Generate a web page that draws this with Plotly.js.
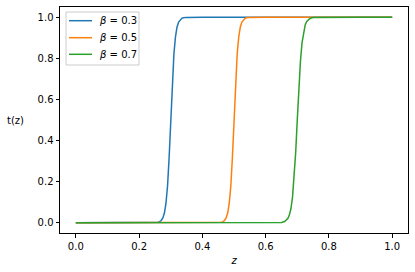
<!DOCTYPE html>
<html>
<head>
<meta charset="utf-8">
<script src="https://cdn.plot.ly/plotly-3.0.1.min.js"></script>
<style>html,body{margin:0;padding:0;background:#fff;}#chart{width:415px;height:272px;}</style>
</head>
<body>
<div id="chart"></div>
<script>
// Series
const betas = ["0.3", "0.5", "0.7"];
const z03 = [0, 0.1, 0.2, 0.25, 0.26, 0.265, 0.27, 0.275, 0.28, 0.285, 0.29, 0.295, 0.3, 0.305, 0.31, 0.315, 0.32, 0.325, 0.33, 0.335, 0.34, 0.35, 0.4, 0.6, 0.8, 1.0];
const t03 = [0, 0, 0, 0.0005, 0.0025, 0.005, 0.011, 0.023, 0.047, 0.095, 0.18, 0.32, 0.5, 0.68, 0.82, 0.905, 0.953, 0.977, 0.989, 0.995, 0.9975, 0.9995, 1, 1, 1, 1];
const z05 = [0, 0.2, 0.4, 0.45, 0.46, 0.465, 0.47, 0.475, 0.48, 0.485, 0.49, 0.495, 0.5, 0.505, 0.51, 0.515, 0.52, 0.525, 0.53, 0.535, 0.54, 0.55, 0.6, 0.8, 1.0];
const t05 = [0, 0, 0, 0.0005, 0.0025, 0.005, 0.011, 0.023, 0.047, 0.095, 0.18, 0.32, 0.5, 0.68, 0.82, 0.905, 0.953, 0.977, 0.989, 0.995, 0.9975, 0.9995, 1, 1, 1];
const z07 = [0, 0.2, 0.4, 0.6, 0.65, 0.66, 0.665, 0.67, 0.675, 0.68, 0.685, 0.69, 0.695, 0.7, 0.705, 0.71, 0.715, 0.72, 0.725, 0.73, 0.735, 0.74, 0.75, 0.8, 0.9, 1.0];
const t07 = [0, 0, 0, 0, 0.0015, 0.0055, 0.0105, 0.0198, 0.037, 0.069, 0.125, 0.214, 0.343, 0.5, 0.657, 0.786, 0.875, 0.931, 0.963, 0.980, 0.9895, 0.9945, 0.9985, 1, 1, 1];
const colors = ["#1f77b4", "#ff7f0e", "#2ca02c"];
const xTicks = [0, 0.2, 0.4, 0.6, 0.8, 1.0];
const yTicks = [0, 0.2, 0.4, 0.6, 0.8, 1.0];

const zs = [z03, z05, z07];
const ts = [t03, t05, t07];
const labels = betas.map(b => "<i>β</i> = " + b);
const traces = zs.map((z, i) => ({
  x: z, y: ts[i], type: "scatter", mode: "lines",
  name: labels[i], showlegend: false,
  line: {color: colors[i], width: 1.5}
}));

const font = {family: "DejaVu Sans, sans-serif", size: 10, color: "#000"};
const axisCommon = {
  showgrid: false, zeroline: false, showline: true, mirror: true,
  linecolor: "#000", linewidth: 1, ticks: "outside", ticklen: 3.5,
  tickwidth: 1, tickcolor: "#000", tickfont: font, tickformat: ".1f"
};

// Legend box drawn in paper coordinates (plot area: 60..408 px wide, 7..233 px tall)
const W = 348, H = 226, L = 60, T = 7;
const px = x => (x - L) / W;
const py = y => 1 - (y - T) / H;
const shapes = [{type: "rect", xref: "paper", yref: "paper",
  x0: px(66), x1: px(139), y0: py(65), y1: py(12),
  line: {color: "#cccccc", width: 1}, fillcolor: "rgba(255,255,255,0.8)", layer: "above"}];
const annotations = [];
const rowY = [20.7, 37.7, 54.3];
labels.forEach((lab, i) => {
  shapes.push({type: "line", xref: "paper", yref: "paper",
    x0: px(69), x1: px(92), y0: py(rowY[i]), y1: py(rowY[i]),
    line: {color: colors[i], width: 1.5}, layer: "above"});
  annotations.push({text: lab, xref: "paper", yref: "paper", x: px(97), y: py(rowY[i]),
    xanchor: "left", yanchor: "middle", showarrow: false, font: font});
});
annotations.push({text: "t(z)", xref: "paper", yref: "paper", x: px(16), y: 0.5,
  xanchor: "center", yanchor: "middle", showarrow: false, font: font});

const layout = {
  width: 415, height: 272,
  margin: {l: 60, r: 7, t: 7, b: 39},
  paper_bgcolor: "#fff", plot_bgcolor: "#fff",
  font: font,
  showlegend: false,
  xaxis: Object.assign({}, axisCommon, {range: [-0.05, 1.05], tickvals: xTicks,
    title: {text: "<i>z</i>", font: font, standoff: 6}}),
  yaxis: Object.assign({}, axisCommon, {range: [-0.05, 1.05], tickvals: yTicks}),
  shapes: shapes,
  annotations: annotations
};
Plotly.newPlot("chart", traces, layout, {displayModeBar: false, staticPlot: true});
</script>
</body>
</html>
